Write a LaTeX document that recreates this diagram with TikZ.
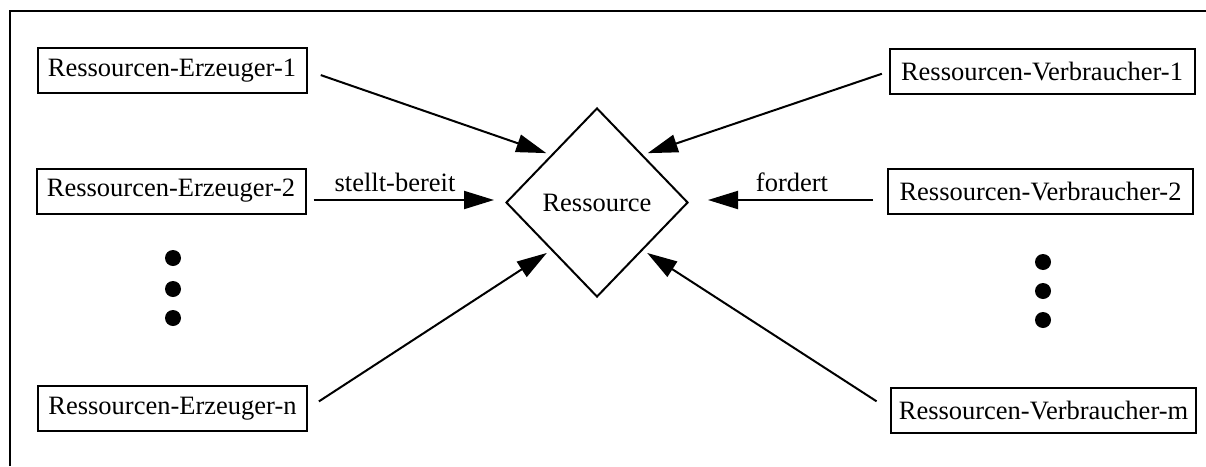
\documentclass[tikz,border=0pt]{standalone}
\usepackage{fontspec}
\setmainfont{Liberation Serif}
\usetikzlibrary{shapes.geometric,arrows.meta}
\begin{document}
\begin{tikzpicture}[x=1pt,y=-1pt,
  every node/.style={font=\fontsize{26.5}{30}\selectfont},
  ebox/.style={draw,line width=2pt,inner sep=0pt,minimum width=269pt,minimum height=45pt},
  vbox/.style={draw,line width=2pt,inner sep=0pt,minimum width=305pt,minimum height=45pt},
  arr/.style={line width=2pt,-{Triangle[length=30pt,width=18pt]}},
  dot/.style={circle,fill=black,inner sep=0pt,minimum size=16pt},
  lbl/.style={anchor=base,inner sep=0pt}]
\useasboundingbox (0,0) rectangle (1206,466);
\draw[line width=2pt] (10,466) -- (10,11) -- (1206,11);
\node[ebox] (e1) at (172,70.5) {Ressourcen-Erzeuger-1};
\node[ebox] (e2) at (171,191) {Ressourcen-Erzeuger-2};
\node[ebox] (en) at (172.5,408.5) {Ressourcen-Erzeuger-n};
\node[vbox] (v1) at (1042,71.5) {Ressourcen-Verbraucher-1};
\node[vbox] (v2) at (1040.5,191.5) {Ressourcen-Verbraucher-2};
\node[vbox] (vm) at (1043.5,410) {Ressourcen-Verbraucher-m};
\node[diamond,draw,line width=2pt,inner sep=0pt,minimum width=182pt,minimum height=189pt] (res) at (597,202.5) {Ressource};
\node[dot] (ld1) at (173,258) {};
\node[dot] (ld2) at (173,289) {};
\node[dot] (ld3) at (173,318) {};
\node[dot] (rd1) at (1043,262) {};
\node[dot] (rd2) at (1043,291) {};
\node[dot] (rd3) at (1043,320) {};
\draw[arr,shorten <=14pt,shorten >=5pt] (e1.east) -- (res.north west);
\draw[arr,shorten <=13pt,shorten >=5pt] (en.east) -- (res.south west);
\draw[arr,shorten <=7pt,shorten >=5pt] (v1.west) -- (res.north east);
\draw[arr,shorten <=16pt,shorten >=5pt] (vm.west) -- (res.south east);
\draw[arr,shorten <=7pt,shorten >=11pt] ([yshift=-9pt]e2.east) -- ([yshift=2.5pt]res.west);
\draw[arr,shorten <=14pt,shorten >=19pt] ([yshift=-8.5pt]v2.west) -- ([yshift=2.5pt]res.east);
\node[lbl] (sb) at (395,191) {stellt-bereit};
\node[lbl] (fo) at (792,191) {fordert};
\end{tikzpicture}
\end{document}
